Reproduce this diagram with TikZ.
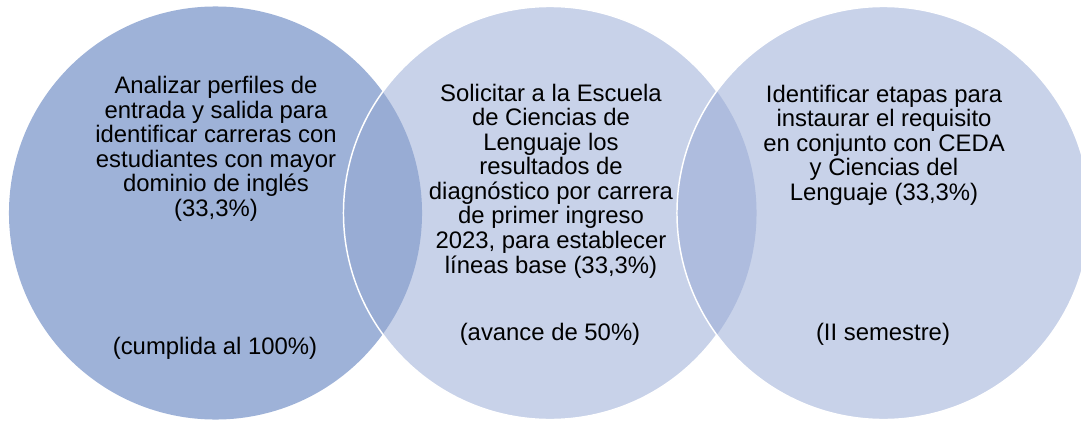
\documentclass[tikz,border=0pt]{standalone}
\usepackage{fontspec}
\setmainfont{Liberation Sans}
\definecolor{circA}{HTML}{9EB2D8}
\definecolor{circB}{HTML}{C8D2E9}
\definecolor{lensAB}{HTML}{98ACD4}
\definecolor{lensBC}{HTML}{AEBCDE}
\begin{document}
\begin{tikzpicture}[x=0.75pt,y=-0.75pt,
    txt/.style={align=center,inner sep=0pt,font=\fontsize{17.9}{18.4}\selectfont}]
  \clip (0,0) rectangle (1081,421);
  \coordinate (c1) at (215.5,213);
  \coordinate (c2) at (550,213);
  \coordinate (c3) at (883.5,213);
  % circles, drawn left to right
  \fill[circA] (c1) circle (154.9pt);
  \fill[circB] (c2) circle (154.9pt);
  \begin{scope}
    \clip (c1) circle (154.9pt);
    \fill[lensAB] (c2) circle (154.9pt);
  \end{scope}
  \draw[white,line width=1.1pt] (c2) circle (154.9pt);
  \fill[circB] (c3) circle (154.9pt);
  \begin{scope}
    \clip (c2) circle (154.9pt);
    \fill[lensBC] (c3) circle (154.9pt);
  \end{scope}
  \draw[white,line width=1.1pt] (c3) circle (154.9pt);
  % texts
  \node[txt] (t1) at (216,149) {Analizar perfiles de\\entrada y salida para\\identificar carreras con\\estudiantes con mayor\\dominio de inglés\\(33,3\%)};
  \node[txt] (s1) at (215,348) {(cumplida al 100\%)};
  \node[txt] (t2) at (551,181) {Solicitar a la Escuela\\de Ciencias de\\Lenguaje los\\resultados de\\diagnóstico por carrera\\de primer ingreso\\2023, para establecer\\líneas base (33,3\%)};
  \node[txt] (s2) at (550,334) {(avance de 50\%)};
  \node[txt] (t3) at (884,145) {Identificar etapas para\\instaurar el requisito\\en conjunto con CEDA\\y Ciencias del\\Lenguaje (33,3\%)};
  \node[txt] (s3) at (883,334) {(II semestre)};
\end{tikzpicture}
\end{document}
